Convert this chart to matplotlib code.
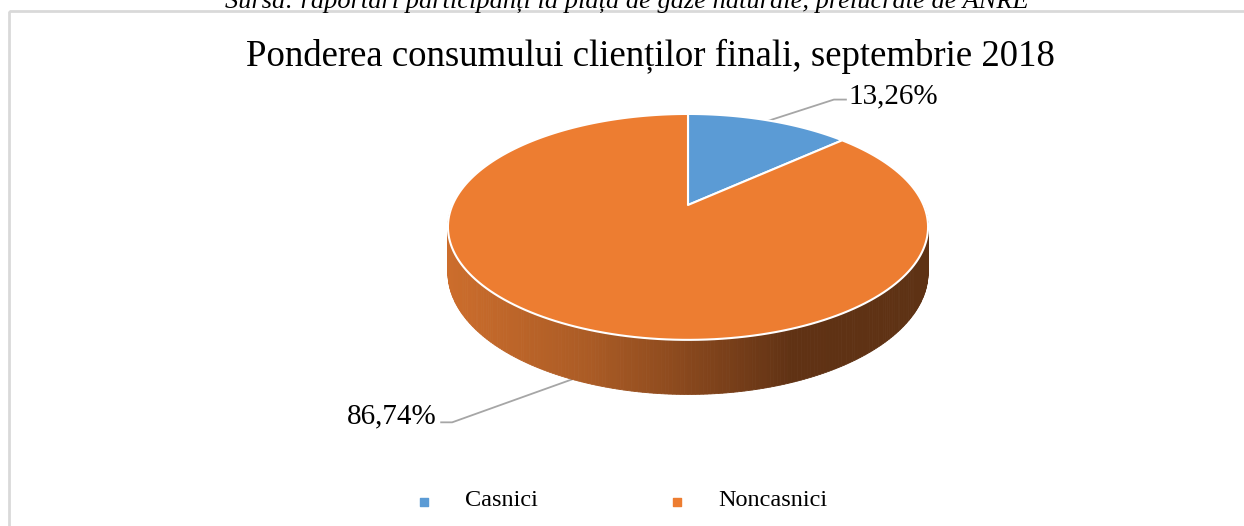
import numpy as np
import matplotlib.pyplot as plt
from matplotlib.patches import Polygon, Rectangle
from matplotlib.colors import LinearSegmentedColormap

# data
categories = ['Casnici', 'Noncasnici']
shares = [13.26, 86.74]
labels = ['13,26%', '86,74%']
colors = ['#5b9bd5', '#ed7d31']
title = 'Ponderea consumului clienților finali, septembrie 2018'
source = 'Sursa: raportări participanți la piața de gaze naturale, prelucrate de ANRE'

plt.rcParams['font.family'] = ['Liberation Serif', 'DejaVu Serif']

# pie geometry (pixels), crude perspective
cx, cy = 688, 205
ra, rb = 235.5, 108.7
k = 0.194
depth = 44


def top(th):
    th = np.radians(th)
    s = 1 / (1 + k * np.sin(th))
    return cx + ra * np.cos(th) * s, cy - rb * np.sin(th) * s


def bot(th):
    x, y = top(th)
    s = 1 / (1 + k * np.sin(np.radians(th)))
    return x, y + depth * s


fig = plt.figure(figsize=(12.44, 5.26), dpi=100)
ax = fig.add_axes([0, 0, 1, 1])
ax.set_xlim(0, 1244)
ax.set_ylim(526, 0)
ax.axis('off')

ax.add_patch(Rectangle((9, 11), 1400, 700, fill=False, edgecolor='#d9d9d9', lw=2))
# source line sits half outside the picture, as in the original
ax.text(627, 2, source, ha='center', va='center', fontsize=19, style='italic')

# side of the disc, shaded by x
side_cmap = LinearSegmentedColormap.from_list(
    'side', [(0, '#cc6d2c'), (0.3, '#aa5b25'), (0.55, '#80431b'), (0.72, '#603214'), (1, '#5e3214')])
ths = np.linspace(180, 360, 241)
for t0, t1 in zip(ths[:-1], ths[1:]):
    p = [top(t0), top(t1), bot(t1), bot(t0)]
    xm = (p[0][0] + p[1][0]) / 2
    c = side_cmap((xm - (cx - 240)) / 480)
    ax.add_patch(Polygon(p, closed=True, facecolor=c, edgecolor=c, lw=0.6))

# top face wedges, clockwise from 12 o'clock
start = 90.0
mids = []
for share, col in zip(shares, colors):
    span = share / 100 * 360
    arc = np.linspace(start, start - span, 200)
    pts = [(cx, cy)] + [top(t) for t in arc]
    ax.add_patch(Polygon(pts, closed=True, facecolor=col, edgecolor='white', lw=1.5, joinstyle='round'))
    mids.append(start - span / 2)
    start -= span

# data labels with leader lines
lc = '#a6a6a6'
x0, y0 = top(mids[0])
ax.plot([x0, x0 + 65, x0 + 77], [y0, y0 - 21, y0 - 21], color=lc, lw=1.3, zorder=0.5)
ax.text(x0 + 80, y0 - 24, labels[0], ha='left', va='center', fontsize=21)
x1, y1 = bot(mids[1])
ax.plot([x1, x1 - 120, x1 - 131], [y1, y1 + 43, y1 + 43], color=lc, lw=1.3, zorder=0.5)
ax.text(x1 - 136, y1 + 37, labels[1], ha='right', va='center', fontsize=21)

ax.text(650, 56, title, ha='center', va='center', fontsize=26.5)

# legend
for xm, name, col in zip([424, 677], categories, colors):
    ax.scatter([xm], [502], marker='s', s=30, color=col)
    ax.text(xm + 41, 501, name, ha='left', va='center', fontsize=17.5)

fig.savefig('out.png', dpi=100)
